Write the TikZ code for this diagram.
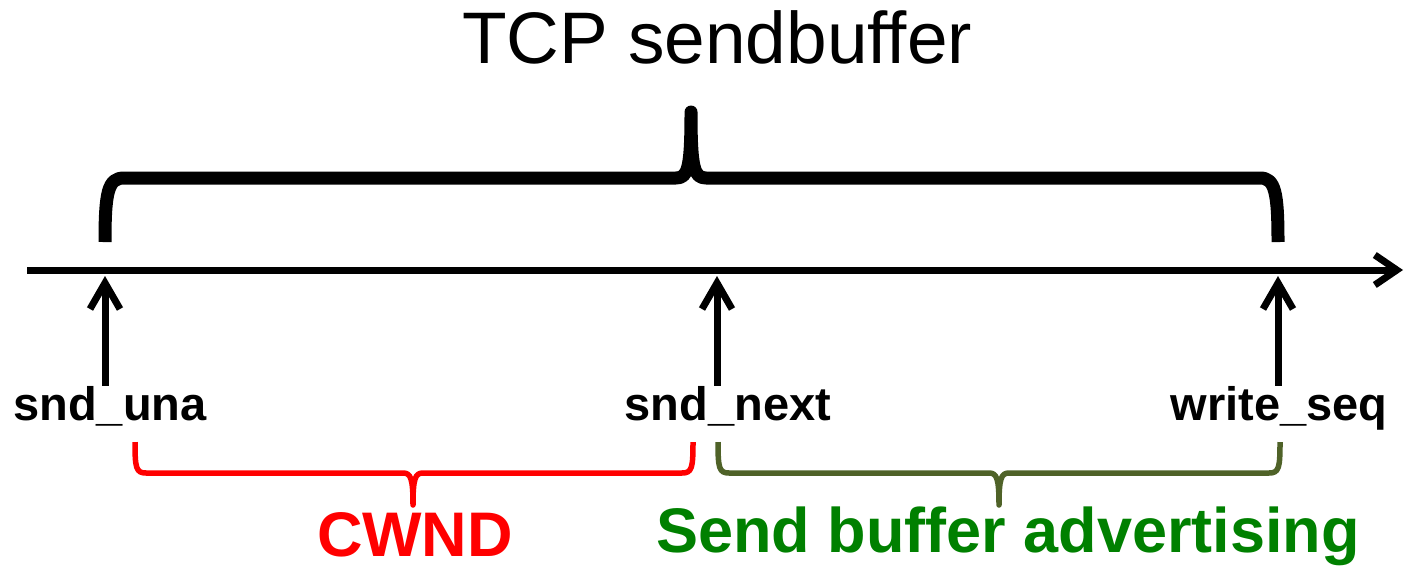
\documentclass[tikz,border=0pt]{standalone}
\usepackage{fontspec}
\setmainfont{Liberation Sans}
\usepackage{tikz}
\usetikzlibrary{arrows.meta}
\definecolor{cwndred}{RGB}{255,0,0}
\definecolor{bracegreen}{RGB}{79,98,40}
\definecolor{advgreen}{RGB}{0,128,0}

\tikzset{
  seqlabel/.style={font=\fontsize{47}{50}\selectfont\bfseries, inner sep=0pt, anchor=base},
  bigtext/.style={font=\fontsize{63}{66}\selectfont\bfseries, inner sep=0pt, anchor=base},
  ptr/.style={line width=7pt, -{Straight Barb[length=26pt,width=30pt]}},
}

\begin{document}
\begin{tikzpicture}[x=1pt,y=-1pt]
    \useasboundingbox (0,0) rectangle (1410,565);
    \node[anchor=base, inner sep=0pt, font=\fontsize{73}{80}\selectfont] (title) at (717,63) {TCP sendbuffer};
    % sequence space
    \coordinate (start) at (27,270);
    \coordinate (end) at (1403,270);
    \draw[line width=7pt, -{Straight Barb[length=22pt,width=30pt]}] (start) -- (end);
    \coordinate (una) at (105,276);
    \coordinate (next) at (717,276);
    \coordinate (wseq) at (1278,276);
    \node[seqlabel] (una-l) at (110,420) {snd\_una};
    \node[seqlabel] (next-l) at (728,420) {snd\_next};
    \node[seqlabel] (wseq-l) at (1279,420) {write\_seq};
    \begin{scope}[ptr]
      \draw (una-l.north -| una) -- (una) ;
      \draw (next-l.north -| next) -- (next) ;
      \draw (wseq-l.north -| wseq) -- (wseq) ;
    \end{scope}
    % braces
    \draw[line width=13pt, line join=round]
      (105,242) .. controls (105,192) and (108,178) .. (124,178) -- (676,178)
      .. controls (688,178) and (691,168) .. (691,112)
      .. controls (691,168) and (694,178) .. (706,178) -- (1260,178)
      .. controls (1275,178) and (1278,192) .. (1278,242);
    \draw[cwndred, line width=5.5pt, line join=round]
      (135,442) .. controls (135,468) and (136,473) .. (146,473) -- (403,473)
      .. controls (411,473) and (413,479) .. (413,505)
      .. controls (413,479) and (415,473) .. (423,473) -- (682,473)
      .. controls (692,473) and (693,468) .. (693,442);
    \draw[bracegreen, line width=5.5pt, line join=round]
      (718,442) .. controls (718,468) and (719,473) .. (729,473) -- (989,473)
      .. controls (997,473) and (999,479) .. (999,505)
      .. controls (999,479) and (1001,473) .. (1009,473) -- (1269,473)
      .. controls (1279,473) and (1280,468) .. (1280,442);
    \node[bigtext, cwndred] (cwnd) at (415,556) {CWND};
    \node[bigtext, advgreen] (adv) at (1008,552) {Send buffer advertising};
\end{tikzpicture}
\end{document}
